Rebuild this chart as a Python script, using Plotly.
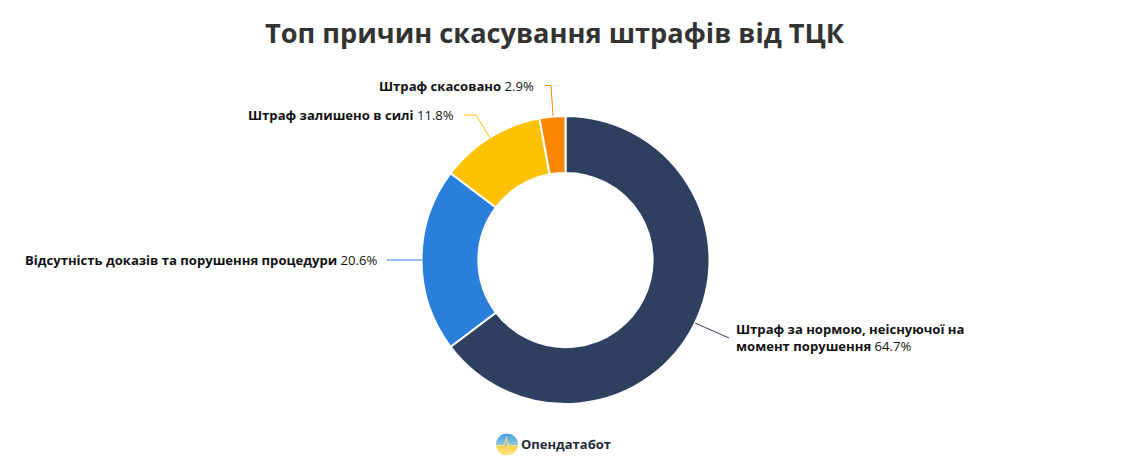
import base64
import plotly.graph_objects as go

labels = ["Штраф за нормою, неіснуючої на момент порушення", "Відсутність доказів та порушення процедури", "Штраф залишено в силі", "Штраф скасовано"]
values = [64.7, 20.6, 11.8, 2.9]
colors = ["#2e3f60", "#2b7fdc", "#ffc200", "#ff8700"]
W, H = 1141, 472
cx, cy, R = 565.5, 260, 144

fig = go.Figure(go.Pie(labels=labels, values=values, hole=0.605, sort=False, direction="clockwise", rotation=0,
    marker=dict(colors=colors, line=dict(color="white", width=2)), textinfo="none", hoverinfo="label+percent",
    domain=dict(x=[(cx-R)/W, (cx+R)/W], y=[1-(cy+R)/H, 1-(cy-R)/H])))

def leader(pts, color):
    fig.add_shape(type="path", xref="paper", yref="paper", line=dict(color=color, width=1),
        path="M " + " L ".join(f"{x/W} {1-y/H}" for x, y in pts))
leader([(695, 323), (729, 338)], colors[0])
leader([(387, 260), (422, 260)], colors[1])
leader([(464, 115), (476, 115), (490, 138)], colors[2])
leader([(545, 85.5), (551, 85.5), (553, 116)], colors[3])

def label(x, y, text, anchor):
    fig.add_annotation(x=x/W, y=1-y/H, xref="paper", yref="paper", text=text, showarrow=False, xanchor=anchor, yanchor="middle", align="left",
        font=dict(family="Open Sans", size=13.1, color="#111"))
label(734, 337, "<b>Штраф за нормою, неіснуючої на</b><br><b>момент порушення</b> 64.7%", "left")
label(379, 260, "<b>Відсутність доказів та порушення процедури</b> 20.6%", "right")
label(456, 115, "<b>Штраф залишено в силі</b> 11.8%", "right")
label(536, 86, "<b>Штраф скасовано</b> 2.9%", "right")
fig.add_annotation(x=555/W, y=1-32/H, xref="paper", yref="paper", text="<b>Топ причин скасування штрафів від ТЦК</b>", showarrow=False,
    xanchor="center", yanchor="middle", font=dict(family="Open Sans", size=27.2, color="#333"))
fig.add_annotation(x=519/W, y=1-444/H, xref="paper", yref="paper", xanchor="left", yanchor="middle", text="<b>Опендатабот</b>", showarrow=False,
    font=dict(family="Open Sans", size=13, color="#1f2a3c"))
logo = ('<svg xmlns="http://www.w3.org/2000/svg" viewBox="0 0 44 44"><defs><linearGradient id="g" x1="0" y1="0" x2="0" y2="1">'
        '<stop offset="0" stop-color="#3f9fe8"/><stop offset=".5" stop-color="#8fc4d8"/><stop offset=".62" stop-color="#ffd54f"/><stop offset="1" stop-color="#ffe58a"/></linearGradient></defs>'
        '<circle cx="22" cy="22" r="22" fill="url(#g)"/>'
        '<path d="M0 24 H15 L18 18 L21 8 L24 26 L27 20 L30 24 H44" fill="none" stroke="#ffe27a" stroke-width="2"/></svg>')
fig.add_layout_image(source="data:image/svg+xml;base64," + base64.b64encode(logo.encode()).decode(),
    xref="paper", yref="paper", x=496/W, y=1-433.5/H, sizex=22/W, sizey=22/H, xanchor="left", yanchor="top", sizing="stretch", layer="above")
fig.update_layout(width=W, height=H, margin=dict(l=0, r=0, t=0, b=0), showlegend=False, paper_bgcolor="white")
fig.write_html("out.html", post_script="document.body.style.margin='0';", config=dict(displayModeBar=False))
